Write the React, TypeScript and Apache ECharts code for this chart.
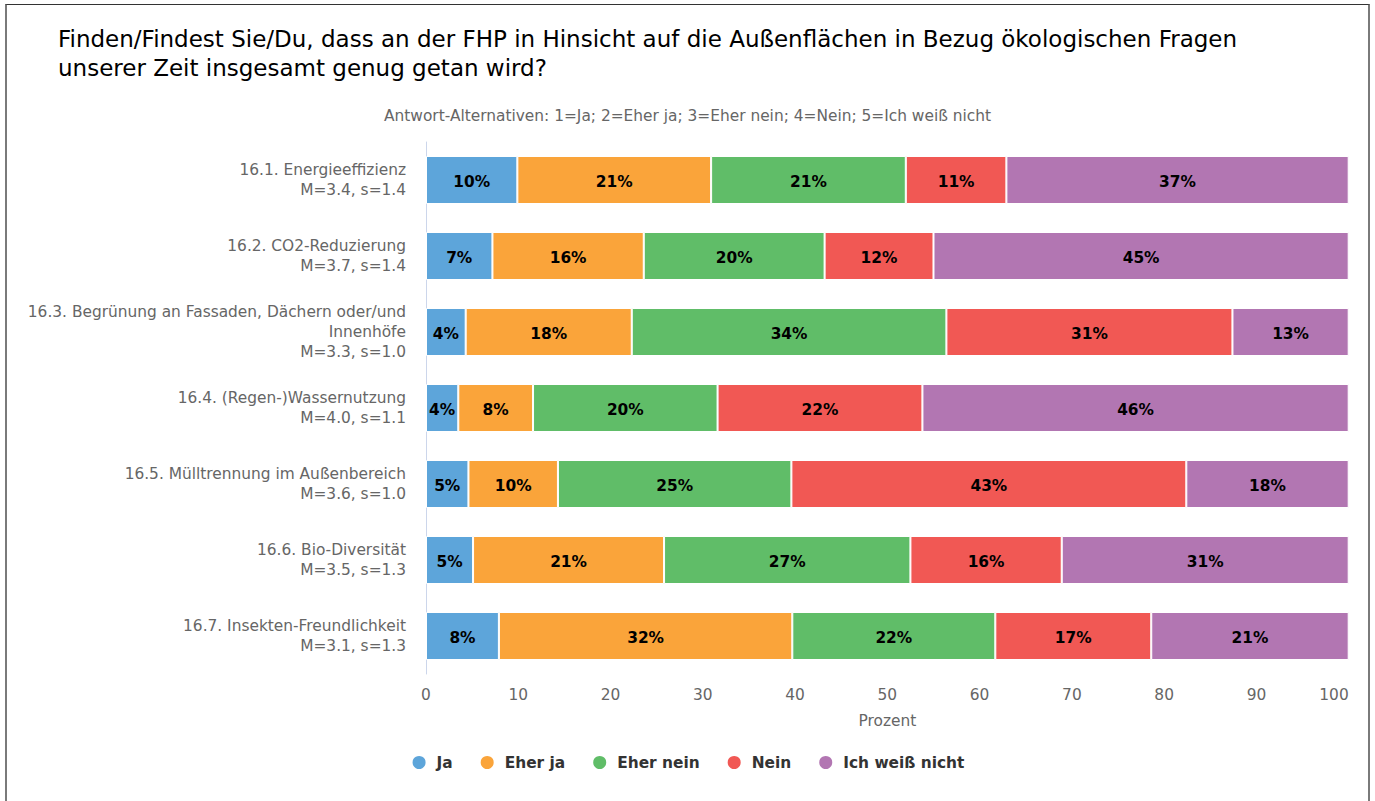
import React, { useEffect, useRef } from "react";
import * as echarts from "echarts";

const titleText =
  "Finden/Findest Sie/Du, dass an der FHP in Hinsicht auf die Außenflächen in Bezug ökologischen Fragen\nunserer Zeit insgesamt genug getan wird?";
const subtitleText =
  "Antwort-Alternativen: 1=Ja; 2=Eher ja; 3=Eher nein; 4=Nein; 5=Ich weiß nicht";

const categories = [
  "16.1. Energieeffizienz\nM=3.4, s=1.4",
  "16.2. CO2-Reduzierung\nM=3.7, s=1.4",
  "16.3. Begrünung an Fassaden, Dächern oder/und\nInnenhöfe\nM=3.3, s=1.0",
  "16.4. (Regen-)Wassernutzung\nM=4.0, s=1.1",
  "16.5. Mülltrennung im Außenbereich\nM=3.6, s=1.0",
  "16.6. Bio-Diversität\nM=3.5, s=1.3",
  "16.7. Insekten-Freundlichkeit\nM=3.1, s=1.3",
];

const seriesNames = ["Ja", "Eher ja", "Eher nein", "Nein", "Ich weiß nicht"];
const seriesColors = ["#5DA5DA", "#FAA43A", "#60BD68", "#F15854", "#B276B2"];

const ja = [9.9, 7.2, 4.3, 3.5, 4.6, 5.1, 7.9];
const eherJa = [21.0, 16.4, 18.0, 8.1, 9.7, 20.7, 31.8];
const eherNein = [21.1, 19.6, 34.1, 20.0, 25.3, 26.7, 22.0];
const nein = [10.9, 11.8, 31.0, 22.2, 42.8, 16.4, 16.9];
const weissNicht = [37.1, 45.0, 12.6, 46.2, 17.6, 31.1, 21.4];

const seriesValues = [ja, eherJa, eherNein, nein, weissNicht];

const xTicks = { min: 0, max: 100, interval: 10 };

const FONT = "DejaVu Sans";
const FS = 15.4;

export default function App() {
  const ref = useRef<HTMLDivElement>(null);

  useEffect(() => {
    if (!ref.current) return;
    const chart = echarts.init(ref.current, undefined, { renderer: "svg" });
    chart.setOption({
      animation: false,
      textStyle: { fontFamily: FONT },
      title: [
        {
          text: titleText,
          left: 58,
          top: 24,
          padding: 0,
          textStyle: {
            fontFamily: FONT,
            fontSize: 23,
            fontWeight: "normal",
            color: "#000",
            lineHeight: 29,
          },
        },
        {
          text: subtitleText,
          left: "center",
          top: 108,
          padding: 0,
          textStyle: {
            fontFamily: FONT,
            fontSize: FS,
            fontWeight: "normal",
            color: "#666",
          },
        },
      ],
      legend: {
        data: seriesNames,
        top: 754,
        left: "center",
        padding: 0,
        icon: "circle",
        itemWidth: 15,
        itemHeight: 15,
        itemGap: 26,
        textStyle: {
          fontFamily: FONT,
          fontSize: FS,
          fontWeight: "bold",
          color: "#333",
          padding: [0, 0, 0, 5],
        },
      },
      grid: { left: 426, right: 26.3, top: 142, height: 532, containLabel: false },
      xAxis: {
        type: "value",
        min: xTicks.min,
        max: xTicks.max,
        interval: xTicks.interval,
        name: "Prozent",
        nameLocation: "middle",
        nameGap: 39,
        nameTextStyle: { color: "#666", fontSize: FS, fontFamily: FONT },
        axisLine: { show: false },
        axisTick: { show: false },
        splitLine: { show: false },
        axisLabel: {
          color: "#666",
          fontSize: FS,
          margin: 13,
          fontFamily: FONT,
          alignMaxLabel: "right",
        },
      },
      yAxis: {
        type: "category",
        data: categories,
        inverse: true,
        axisLine: { show: true, lineStyle: { color: "#ccd6eb", width: 1 } },
        axisTick: { show: false },
        splitLine: { show: false },
        axisLabel: {
          color: "#666",
          fontSize: FS,
          lineHeight: 20,
          margin: 20,
          align: "right",
          padding: [4, 0, 0, 0],
          fontFamily: FONT,
        },
      },
      series: seriesNames.map((name, i) => ({
        name,
        type: "bar",
        stack: "total",
        barWidth: 48,
        data: seriesValues[i],
        itemStyle: {
          color: seriesColors[i],
          borderColor: "#fff",
          borderWidth: 1,
        },
        label: {
          show: true,
          position: "inside",
          offset: [0, 1.5],
          color: "#000",
          fontSize: FS,
          fontWeight: "bold",
          fontFamily: FONT,
          formatter: (p: any) => `${Math.round(p.value)}%`,
        },
      })),
    });
    return () => chart.dispose();
  }, []);

  return (
    <div
      style={{
        position: "fixed",
        left: 0,
        top: 0,
        width: 1375,
        height: 801,
        overflow: "hidden",
        background: "#fff",
      }}
    >
      <div
        style={{
          position: "absolute",
          left: 5,
          top: 4,
          width: 1365,
          height: 830,
          boxSizing: "border-box",
          border: "2px solid #7a7a7a",
          borderTopColor: "#333",
          borderTopWidth: 1,
        }}
      />
      <div
        ref={ref}
        style={{ position: "absolute", left: 0, top: 0, width: 1375, height: 801 }}
      />
    </div>
  );
}
